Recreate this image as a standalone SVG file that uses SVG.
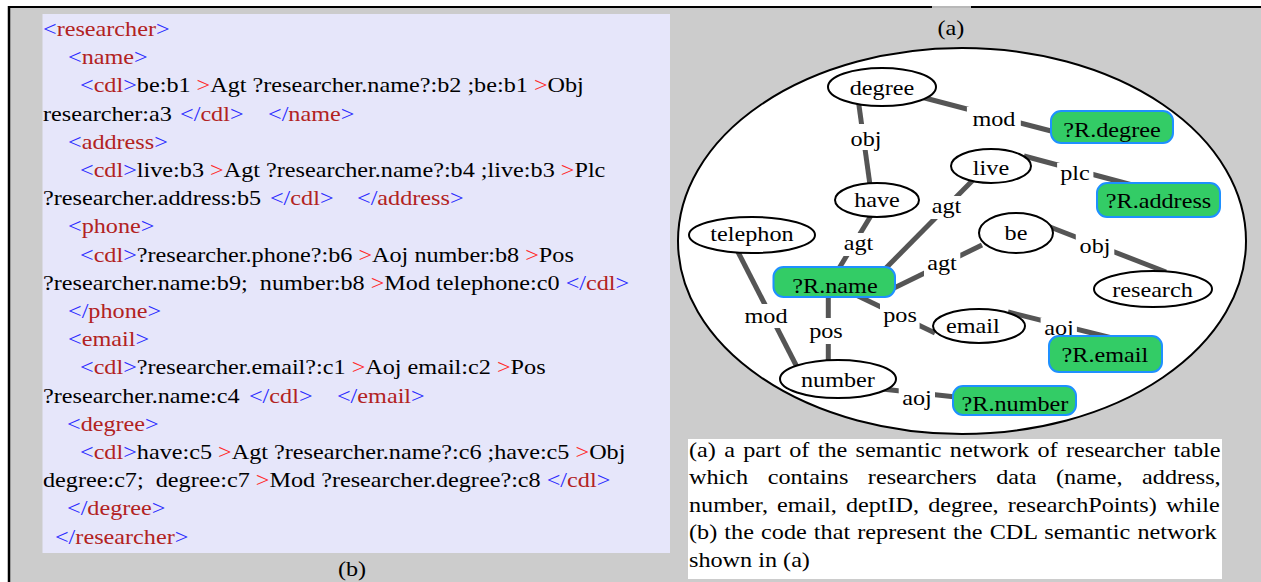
<svg xmlns="http://www.w3.org/2000/svg" width="1261" height="582" viewBox="0 0 1261 582">
<style>
text{font-family:"Liberation Serif","Times New Roman",serif;font-size:22px;fill:#000}
.b{fill:#2b2bff}
.t{fill:#b22222}
.r{fill:#ff2a2a}
.m{text-anchor:middle}
.edge{stroke:#555;stroke-width:5;fill:none}
.lbl{fill:#fff}
.node ellipse{fill:#fff;stroke:#000;stroke-width:2}
.vnode rect{fill:#33cc66;stroke:#1e90ff;stroke-width:2}
</style>
<rect x="0" y="0" width="1261" height="582" fill="#fff"/>
<rect x="9" y="7" width="1252" height="575" fill="#cccccc"/>
<line x1="9" y1="7" x2="932" y2="7" stroke="#000" stroke-width="2"/>
<line x1="932" y1="7" x2="971" y2="7" stroke="#b8b8b8" stroke-width="2"/>
<line x1="971" y1="7" x2="1261" y2="7" stroke="#000" stroke-width="2"/>
<line x1="9" y1="6" x2="9" y2="582" stroke="#000" stroke-width="2.5"/>

<g id="code-panel">
<rect x="42.5" y="14" width="627.5" height="539" fill="#e6e6fa"/>
<g transform="scale(1.1 1)">
<text x="39.09" y="36"><tspan class="b">&lt;</tspan><tspan class="t">researcher</tspan><tspan class="b">&gt;</tspan></text>
<text x="61.82" y="64.2"><tspan class="b">&lt;</tspan><tspan class="t">name</tspan><tspan class="b">&gt;</tspan></text>
<text x="72.73" y="92.4"><tspan class="b">&lt;</tspan><tspan class="t">cdl</tspan><tspan class="b">&gt;</tspan>be:b1 <tspan class="r">&gt;</tspan>Agt ?researcher.name?:b2 ;be:b1 <tspan class="r">&gt;</tspan>Obj</text>
<text x="39.09" y="120.6">researcher:a3</text>
<text x="163.64" y="120.6"><tspan class="b">&lt;/</tspan><tspan class="t">cdl</tspan><tspan class="b">&gt;</tspan></text>
<text x="243.64" y="120.6"><tspan class="b">&lt;/</tspan><tspan class="t">name</tspan><tspan class="b">&gt;</tspan></text>
<text x="61.82" y="148.8"><tspan class="b">&lt;</tspan><tspan class="t">address</tspan><tspan class="b">&gt;</tspan></text>
<text x="72.73" y="177"><tspan class="b">&lt;</tspan><tspan class="t">cdl</tspan><tspan class="b">&gt;</tspan>live:b3 <tspan class="r">&gt;</tspan>Agt ?researcher.name?:b4 ;live:b3 <tspan class="r">&gt;</tspan>Plc</text>
<text x="39.09" y="205.2">?researcher.address:b5</text>
<text x="245.45" y="205.2"><tspan class="b">&lt;/</tspan><tspan class="t">cdl</tspan><tspan class="b">&gt;</tspan></text>
<text x="324.55" y="205.2"><tspan class="b">&lt;/</tspan><tspan class="t">address</tspan><tspan class="b">&gt;</tspan></text>
<text x="61.82" y="233.4"><tspan class="b">&lt;</tspan><tspan class="t">phone</tspan><tspan class="b">&gt;</tspan></text>
<text x="72.73" y="261.6"><tspan class="b">&lt;</tspan><tspan class="t">cdl</tspan><tspan class="b">&gt;</tspan>?researcher.phone?:b6 <tspan class="r">&gt;</tspan>Aoj number:b8 <tspan class="r">&gt;</tspan>Pos</text>
<text x="39.09" y="289.8">?researcher.name:b9;&#160; number:b8 <tspan class="r">&gt;</tspan>Mod telephone:c0 <tspan class="b">&lt;/</tspan><tspan class="t">cdl</tspan><tspan class="b">&gt;</tspan></text>
<text x="61.82" y="318"><tspan class="b">&lt;/</tspan><tspan class="t">phone</tspan><tspan class="b">&gt;</tspan></text>
<text x="61.82" y="346.2"><tspan class="b">&lt;</tspan><tspan class="t">email</tspan><tspan class="b">&gt;</tspan></text>
<text x="72.73" y="374.4"><tspan class="b">&lt;</tspan><tspan class="t">cdl</tspan><tspan class="b">&gt;</tspan>?researcher.email?:c1 <tspan class="r">&gt;</tspan>Aoj email:c2 <tspan class="r">&gt;</tspan>Pos</text>
<text x="39.09" y="402.6">?researcher.name:c4</text>
<text x="226.36" y="402.6"><tspan class="b">&lt;/</tspan><tspan class="t">cdl</tspan><tspan class="b">&gt;</tspan></text>
<text x="306.36" y="402.6"><tspan class="b">&lt;/</tspan><tspan class="t">email</tspan><tspan class="b">&gt;</tspan></text>
<text x="60.91" y="430.8"><tspan class="b">&lt;</tspan><tspan class="t">degree</tspan><tspan class="b">&gt;</tspan></text>
<text x="72.73" y="459"><tspan class="b">&lt;</tspan><tspan class="t">cdl</tspan><tspan class="b">&gt;</tspan>have:c5 <tspan class="r">&gt;</tspan>Agt ?researcher.name?:c6 ;have:c5 <tspan class="r">&gt;</tspan>Obj</text>
<text x="39.09" y="487.2">degree:c7;&#160; degree:c7 <tspan class="r">&gt;</tspan>Mod ?researcher.degree?:c8 <tspan class="b">&lt;/</tspan><tspan class="t">cdl</tspan><tspan class="b">&gt;</tspan></text>
<text x="60.91" y="515.4"><tspan class="b">&lt;/</tspan><tspan class="t">degree</tspan><tspan class="b">&gt;</tspan></text>
<text x="50" y="543.6"><tspan class="b">&lt;/</tspan><tspan class="t">researcher</tspan><tspan class="b">&gt;</tspan></text>
<text class="m" x="320" y="576">(b)</text>
<text class="m" x="864.5" y="35">(a)</text>
</g>
</g>

<g id="network-boundary">
<ellipse cx="962" cy="241" rx="284" ry="193" fill="#fff" stroke="#000" stroke-width="2"/>
</g>

<g id="connectors">
<line class="edge" x1="921" y1="97" x2="1055" y2="132"/>
<line class="edge" x1="858.5" y1="102" x2="870" y2="185"/>
<line class="edge" x1="974" y1="179" x2="884" y2="270"/>
<line class="edge" x1="872" y1="214" x2="838" y2="270"/>
<line class="edge" x1="982" y1="245" x2="892" y2="289"/>
<line class="edge" x1="1050" y1="227" x2="1166" y2="272"/>
<line class="edge" x1="1024" y1="156" x2="1136" y2="186"/>
<line class="edge" x1="737" y1="250" x2="797" y2="367"/>
<line class="edge" x1="828.3" y1="294" x2="828.3" y2="362"/>
<line class="edge" x1="856" y1="295" x2="935" y2="333"/>
<line class="edge" x1="1008" y1="312" x2="1116" y2="339"/>
<line class="edge" x1="882" y1="389" x2="956" y2="397"/>
<g transform="scale(1.1 1)">
<rect class="lbl" x="879" y="107" width="49" height="24"/><text class="m" x="903.6" y="126">mod</text>
<rect class="lbl" x="770" y="124" width="35" height="26"/><text class="m" x="787.3" y="146">obj</text>
<rect class="lbl" x="961" y="163" width="33" height="23"/><text class="m" x="977.3" y="180">plc</text>
<rect class="lbl" x="844" y="196" width="33" height="23"/><text class="m" x="860.5" y="213">agt</text>
<rect class="lbl" x="764" y="233" width="33" height="23"/><text class="m" x="780.5" y="250">agt</text>
<rect class="lbl" x="840" y="253" width="33" height="23"/><text class="m" x="856.4" y="270">agt</text>
<rect class="lbl" x="978" y="233" width="35" height="26"/><text class="m" x="995.5" y="253">obj</text>
<rect class="lbl" x="672" y="304" width="49" height="24"/><text class="m" x="696.4" y="323">mod</text>
<rect class="lbl" x="733" y="318" width="36" height="26"/><text class="m" x="750.9" y="338">pos</text>
<rect class="lbl" x="800" y="302" width="36" height="26"/><text class="m" x="818.2" y="321.7">pos</text>
<rect class="lbl" x="946" y="318" width="33" height="24"/><text class="m" x="962.7" y="335">aoj</text>
<rect class="lbl" x="817" y="388" width="33" height="24"/><text class="m" x="833.6" y="405">aoj</text>
</g>
</g>

<g id="node-degree" class="node"><ellipse cx="882" cy="87" rx="54" ry="19"/><text class="m" transform="scale(1.1 1)" x="801.8" y="95">degree</text></g>
<g id="node-live" class="node"><ellipse cx="991" cy="166" rx="40" ry="17"/><text class="m" transform="scale(1.1 1)" x="900.9" y="175">live</text></g>
<g id="node-have" class="node"><ellipse cx="877" cy="200" rx="42" ry="17"/><text class="m" transform="scale(1.1 1)" x="797.3" y="207">have</text></g>
<g id="node-telephon" class="node"><ellipse cx="752" cy="235" rx="63" ry="18"/><text class="m" transform="scale(1.1 1)" x="683.6" y="241">telephon</text></g>
<g id="node-be" class="node"><ellipse cx="1016" cy="233" rx="37" ry="20"/><text class="m" transform="scale(1.1 1)" x="923.6" y="240">be</text></g>
<g id="node-research" class="node"><ellipse cx="1153" cy="289" rx="59" ry="18"/><text class="m" transform="scale(1.1 1)" x="1047.7" y="297">research</text></g>
<g id="node-email" class="node"><ellipse cx="979" cy="326" rx="46" ry="17"/><text class="m" transform="scale(1.1 1)" x="884.5" y="333.5">email</text></g>
<g id="node-number" class="node"><ellipse cx="838" cy="379" rx="58" ry="19"/><text class="m" transform="scale(1.1 1)" x="761.8" y="387">number</text></g>

<g id="node-r-degree" class="vnode"><rect x="1051" y="111" width="122" height="32" rx="10"/><text class="m" transform="scale(1.1 1)" x="1010.9" y="136.7">?R.degree</text></g>
<g id="node-r-address" class="vnode"><rect x="1097" y="183" width="123" height="34" rx="10"/><text class="m" transform="scale(1.1 1)" x="1053.2" y="208">?R.address</text></g>
<g id="node-r-name" class="vnode"><rect x="773.5" y="267" width="121.5" height="30" rx="10"/><text class="m" transform="scale(1.1 1)" x="759.1" y="292.7">?R.name</text></g>
<g id="node-r-email" class="vnode"><rect x="1049" y="336" width="113" height="36" rx="10"/><text class="m" transform="scale(1.1 1)" x="1004.5" y="361.7">?R.email</text></g>
<g id="node-r-number" class="vnode"><rect x="953" y="386" width="123" height="29" rx="10"/><text class="m" transform="scale(1.1 1)" x="922.7" y="410.7">?R.number</text></g>

<g id="caption">
<rect x="688" y="439" width="534" height="140" fill="#fff"/>
<g transform="scale(1.1 1)">
<text x="626.4" y="457" word-spacing="2.08">(a) a part of the semantic network of researcher table</text>
<text x="626.4" y="484.5" word-spacing="12.3">which contains researchers data (name, address,</text>
<text x="626.4" y="512" word-spacing="2.76">number, email, deptID, degree, researchPoints) while</text>
<text x="626.4" y="539.5" word-spacing="1">(b) the code that represent the CDL semantic network</text>
<text x="626.4" y="567">shown in (a)</text>
</g>
</g>
</svg>
